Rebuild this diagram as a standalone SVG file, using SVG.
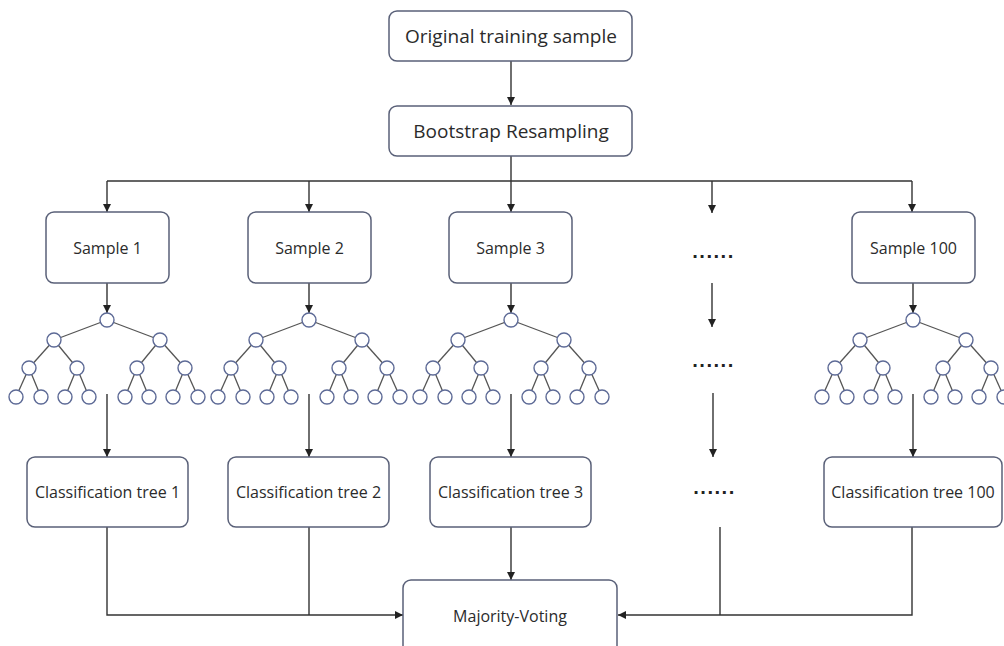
<svg xmlns="http://www.w3.org/2000/svg" xmlns:xlink="http://www.w3.org/1999/xlink" width="1004" height="646" viewBox="0 0 1004 646">
<style>
.box{fill:#fff;stroke:#596078;stroke-width:1.5}
.t{font-family:"Open Sans","Noto Sans",sans-serif;fill:#2b2b2b;text-anchor:middle}
.big{font-size:19px}
.mid{font-size:16px}
.ln{fill:none;stroke:#333;stroke-width:1.4}
.te{stroke:#555;stroke-width:1.3}
.tn{fill:#fff;stroke:#5d6a96;stroke-width:1.4}
.dots{font-family:"DejaVu Sans",sans-serif;font-size:16px;font-weight:bold;fill:#222;letter-spacing:1px}
</style>
<defs>
<marker id="ah" viewBox="0 0 10 10" refX="10" refY="5" markerWidth="8" markerHeight="8" markerUnits="userSpaceOnUse" orient="auto">
<path d="M0,0L10,5L0,10z" fill="#222"/>
</marker>
<g id="tree">
<g class="te">
<line x1="0" y1="0" x2="-53" y2="20"/><line x1="0" y1="0" x2="53" y2="20"/>
<line x1="-53" y1="20" x2="-78" y2="48"/><line x1="-53" y1="20" x2="-30" y2="48"/>
<line x1="53" y1="20" x2="30" y2="48"/><line x1="53" y1="20" x2="78" y2="48"/>
<line x1="-78" y1="48" x2="-91" y2="77"/><line x1="-78" y1="48" x2="-66" y2="77"/>
<line x1="-30" y1="48" x2="-42" y2="77"/><line x1="-30" y1="48" x2="-18" y2="77"/>
<line x1="30" y1="48" x2="18" y2="77"/><line x1="30" y1="48" x2="42" y2="77"/>
<line x1="78" y1="48" x2="66" y2="77"/><line x1="78" y1="48" x2="91" y2="77"/>
</g>
<g class="tn">
<circle cx="0" cy="0" r="7"/>
<circle cx="-53" cy="20" r="7"/><circle cx="53" cy="20" r="7"/>
<circle cx="-78" cy="48" r="7"/><circle cx="-30" cy="48" r="7"/><circle cx="30" cy="48" r="7"/><circle cx="78" cy="48" r="7"/>
<circle cx="-91" cy="77" r="7"/><circle cx="-66" cy="77" r="7"/><circle cx="-42" cy="77" r="7"/><circle cx="-18" cy="77" r="7"/>
<circle cx="18" cy="77" r="7"/><circle cx="42" cy="77" r="7"/><circle cx="66" cy="77" r="7"/><circle cx="91" cy="77" r="7"/>
</g>
</g>
</defs>
<rect width="1004" height="646" fill="#fff"/>

<g id="connectors">
<line class="ln" x1="511" y1="61" x2="511" y2="105" marker-end="url(#ah)"/>
<path class="ln" d="M511,156V181M107,181H912"/>
<line class="ln" x1="107" y1="181" x2="107" y2="212" marker-end="url(#ah)"/>
<line class="ln" x1="309" y1="181" x2="309" y2="212" marker-end="url(#ah)"/>
<line class="ln" x1="511" y1="181" x2="511" y2="212" marker-end="url(#ah)"/>
<line class="ln" x1="712" y1="181" x2="712" y2="213" marker-end="url(#ah)"/>
<line class="ln" x1="912" y1="181" x2="912" y2="212" marker-end="url(#ah)"/>
<line class="ln" x1="107" y1="283" x2="107" y2="313" marker-end="url(#ah)"/>
<line class="ln" x1="309" y1="283" x2="309" y2="313" marker-end="url(#ah)"/>
<line class="ln" x1="511" y1="283" x2="511" y2="313" marker-end="url(#ah)"/>
<line class="ln" x1="913" y1="283" x2="913" y2="313" marker-end="url(#ah)"/>
<line class="ln" x1="712" y1="283" x2="712" y2="327" marker-end="url(#ah)"/>
<line class="ln" x1="713" y1="393" x2="713" y2="457" marker-end="url(#ah)"/>
<line class="ln" x1="107" y1="394" x2="107" y2="457" marker-end="url(#ah)"/>
<line class="ln" x1="309" y1="394" x2="309" y2="457" marker-end="url(#ah)"/>
<line class="ln" x1="511" y1="394" x2="511" y2="457" marker-end="url(#ah)"/>
<line class="ln" x1="913" y1="394" x2="913" y2="457" marker-end="url(#ah)"/>
<path class="ln" d="M107,527V615H403" marker-end="url(#ah)"/>
<path class="ln" d="M309,527V615"/>
<line class="ln" x1="511" y1="527" x2="511" y2="580" marker-end="url(#ah)"/>
<path class="ln" d="M912,527V615H618" marker-end="url(#ah)"/>
<path class="ln" d="M720,527V615"/>
</g>

<g id="n-original"><rect class="box" x="389" y="11" width="243" height="50" rx="8"/><text class="t big" x="511" y="43">Original training sample</text></g>
<g id="n-bootstrap"><rect class="box" x="389" y="106" width="243" height="50" rx="8"/><text class="t big" x="511" y="138">Bootstrap Resampling</text></g>

<g id="n-sample1"><rect class="box" x="46" y="212" width="123" height="71" rx="8"/><text class="t mid" x="107.5" y="254">Sample 1</text></g>
<g id="n-sample2"><rect class="box" x="248" y="212" width="123" height="71" rx="8"/><text class="t mid" x="309.5" y="254">Sample 2</text></g>
<g id="n-sample3"><rect class="box" x="449" y="212" width="123" height="71" rx="8"/><text class="t mid" x="510.5" y="254">Sample 3</text></g>
<g id="n-sample100"><rect class="box" x="852" y="212" width="123" height="71" rx="8"/><text class="t mid" x="913.5" y="254">Sample 100</text></g>

<g id="n-dots1"><text class="dots" x="692" y="258">......</text></g>
<g id="n-dots2"><text class="dots" x="692" y="367">......</text></g>
<g id="n-dots3"><text class="dots" x="693" y="494">......</text></g>

<g id="n-tree1"><use xlink:href="#tree" href="#tree" x="107" y="320"/></g>
<g id="n-tree2"><use xlink:href="#tree" href="#tree" x="309" y="320"/></g>
<g id="n-tree3"><use xlink:href="#tree" href="#tree" x="511" y="320"/></g>
<g id="n-tree100"><use xlink:href="#tree" href="#tree" x="913" y="320"/></g>

<g id="n-ct1"><rect class="box" x="27" y="457" width="161" height="70" rx="8"/><text class="t mid" x="107.5" y="498">Classification tree 1</text></g>
<g id="n-ct2"><rect class="box" x="228" y="457" width="161" height="70" rx="8"/><text class="t mid" x="308.5" y="498">Classification tree 2</text></g>
<g id="n-ct3"><rect class="box" x="430" y="457" width="161" height="70" rx="8"/><text class="t mid" x="510.5" y="498">Classification tree 3</text></g>
<g id="n-ct100"><rect class="box" x="824" y="457" width="178" height="70" rx="8"/><text class="t mid" x="913" y="498">Classification tree 100</text></g>

<g id="n-majority"><rect class="box" x="403" y="580" width="214" height="80" rx="8"/><text class="t mid" x="510" y="622">Majority-Voting</text></g>
</svg>
